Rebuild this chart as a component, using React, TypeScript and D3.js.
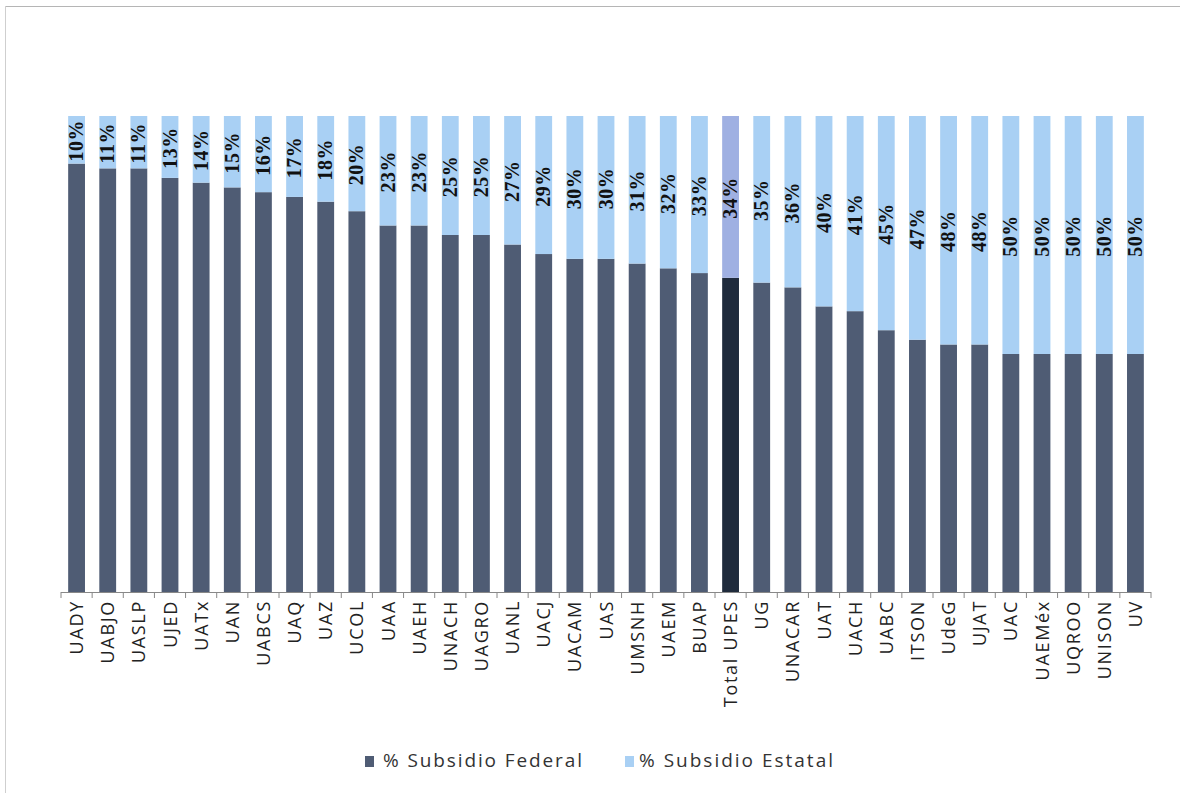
import React from "react";
import * as d3 from "d3";

const categories = ["UADY","UABJO","UASLP","UJED","UATx","UAN","UABCS","UAQ","UAZ","UCOL","UAA","UAEH","UNACH","UAGRO","UANL","UACJ","UACAM","UAS","UMSNH","UAEM","BUAP","Total UPES","UG","UNACAR","UAT","UACH","UABC","ITSON","UdeG","UJAT","UAC","UAEMéx","UQROO","UNISON","UV"];
const estatal = [10,11,11,13,14,15,16,17,18,20,23,23,25,25,27,29,30,30,31,32,33,34,35,36,40,41,45,47,48,48,50,50,50,50,50];
const federal = estatal.map((v) => 100 - v);
const seriesNames = ["% Subsidio Federal", "% Subsidio Estatal"];
const highlight = "Total UPES";

const W = 1180, H = 793;
const FED = "#4f5c74";
const EST = "#a9d0f4";
const FED_HI = "#1f2b3c";
const EST_HI = "#9fb0e2";

export default function App() {
  const x = d3.scaleBand<string>().domain(categories).range([61, 1151]).paddingInner(0.46).paddingOuter(0.23);
  const y = d3.scaleLinear().domain([0, 100]).range([592, 116]);
  const step = x.step();
  const ticks = d3.range(categories.length + 1).map((i) => 61 + i * step);

  return (
    <svg width={W} height={H} style={{ position: "absolute", left: 0, top: 0, background: "#fff" }}>
      <rect x={0} y={0} width={W} height={H} fill="#fff" />
      <line x1={5} y1={6.5} x2={W} y2={6.5} stroke="#b5b5b5" strokeWidth={1} />
      <line x1={5.5} y1={6} x2={5.5} y2={H} stroke="#cfcfcf" strokeWidth={1} />
      {categories.map((c, i) => {
        const bx = x(c)!;
        const hi = c === highlight;
        const yFedTop = y(federal[i]);
        const cx = bx + x.bandwidth() / 2;
        const estMid = (y(100) + yFedTop) / 2;
        return (
          <g key={c}>
            <rect x={bx} y={yFedTop} width={x.bandwidth()} height={y(0) - yFedTop} fill={hi ? FED_HI : FED} />
            <rect x={bx} y={y(100)} width={x.bandwidth()} height={yFedTop - y(100)} fill={hi ? EST_HI : EST} />
            <text
              transform={`translate(${cx + 6.5},${estMid + 1}) rotate(-90)`}
              textAnchor="middle"
              fontFamily="Liberation Serif, serif"
              fontWeight="bold"
              fontSize={20}
              letterSpacing={0.5}
              fill="#111"
            >
              {estatal[i]}%
            </text>
            <text
              transform={`translate(${cx + 6.5},${600}) rotate(-90)`}
              textAnchor="end"
              fontFamily="Open Sans, sans-serif"
              fontSize={18}
              letterSpacing={1.7}
              fill="#222"
            >
              {c}
            </text>
          </g>
        );
      })}
      <line x1={61} y1={592.5} x2={1151} y2={592.5} stroke="#888" strokeWidth={1} />
      {ticks.map((t, i) => (
        <line key={i} x1={t} y1={592} x2={t} y2={598} stroke="#888" strokeWidth={1} />
      ))}
      <g fontFamily="Open Sans, sans-serif" fontSize={19} fill="#333">
        <rect x={365} y={756} width={9} height={11} fill={FED} />
        <text x={383} y={767} textLength={199} lengthAdjust="spacing">{seriesNames[0]}</text>
        <rect x={625} y={756} width={9} height={11} fill={EST} />
        <text x={639} y={767} textLength={194} lengthAdjust="spacing">{seriesNames[1]}</text>
      </g>
    </svg>
  );
}
